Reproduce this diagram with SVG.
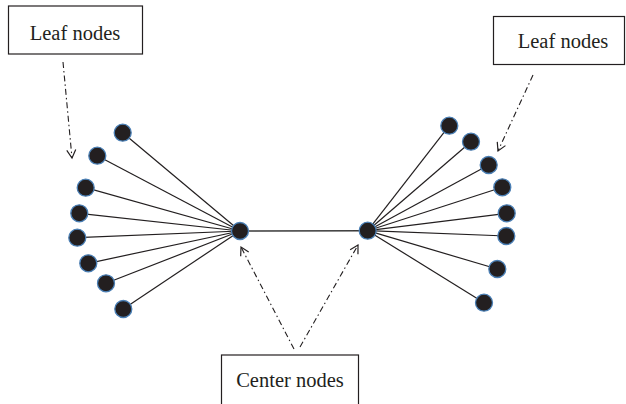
<svg xmlns="http://www.w3.org/2000/svg" width="626" height="404" viewBox="0 0 626 404">
<style>
.bg{fill:#ffffff}
.box{fill:#ffffff;stroke:#231f20;stroke-width:1.2}
.lbl{font-family:"Liberation Serif","Times New Roman",serif;font-size:20.5px;fill:#231f20;text-anchor:middle}
.edge{stroke:#231f20;stroke-width:1.2;fill:none}
.bridge{stroke:#3a3a3a;stroke-width:1.6;fill:none}
.ptr{stroke:#231f20;stroke-width:1.1;fill:none;stroke-dasharray:6 3 1.5 3}
.node{fill:#231f20;stroke:#4a7fb5;stroke-width:1.3}
</style>
<defs>
<marker id="open" markerUnits="userSpaceOnUse" markerWidth="12" markerHeight="12" refX="9" refY="5" orient="auto" viewBox="0 0 12 10">
<path d="M1,0.5 L9,5 L1,9.5" fill="none" stroke="#231f20" stroke-width="1.2"/>
</marker>
</defs>
<rect class="bg" x="0" y="0" width="626" height="404"/>
<g id="connectors">
<line class="edge" x1="122.7" y1="132.7" x2="240" y2="231"/>
<line class="edge" x1="97.3" y1="155.7" x2="240" y2="231"/>
<line class="edge" x1="85.7" y1="187.7" x2="240" y2="231"/>
<line class="edge" x1="79.3" y1="213.3" x2="240" y2="231"/>
<line class="edge" x1="77.3" y1="237.7" x2="240" y2="231"/>
<line class="edge" x1="88.3" y1="263.3" x2="240" y2="231"/>
<line class="edge" x1="106" y1="283.3" x2="240" y2="231"/>
<line class="edge" x1="123.3" y1="309" x2="240" y2="231"/>
<line class="edge" x1="449.3" y1="125.7" x2="367.7" y2="230.7"/>
<line class="edge" x1="471" y1="141.7" x2="367.7" y2="230.7"/>
<line class="edge" x1="488.7" y1="165" x2="367.7" y2="230.7"/>
<line class="edge" x1="502.3" y1="187.3" x2="367.7" y2="230.7"/>
<line class="edge" x1="506.7" y1="213.3" x2="367.7" y2="230.7"/>
<line class="edge" x1="506.3" y1="236" x2="367.7" y2="230.7"/>
<line class="edge" x1="497.3" y1="269" x2="367.7" y2="230.7"/>
<line class="edge" x1="484" y1="302.7" x2="367.7" y2="230.7"/>
<line class="bridge" x1="240" y1="231" x2="367.7" y2="230.7"/>
<line class="ptr" x1="63" y1="62" x2="72" y2="158" marker-end="url(#open)"/>
<line class="ptr" x1="533" y1="75" x2="498" y2="151" marker-end="url(#open)"/>
<line class="ptr" x1="294" y1="349" x2="241" y2="247" marker-end="url(#open)"/>
<line class="ptr" x1="300" y1="347" x2="358" y2="245" marker-end="url(#open)"/>
</g>
<g id="leaf-label-left"><rect class="box" x="8.5" y="6" width="134" height="48"/><text class="lbl" x="75" y="40">Leaf nodes</text></g>
<g id="leaf-label-right"><rect class="box" x="493.5" y="16.5" width="131" height="48"/><text class="lbl" x="563" y="48">Leaf nodes</text></g>
<g id="center-label"><rect class="box" x="221.5" y="355" width="137" height="60"/><text class="lbl" x="290" y="387">Center nodes</text></g>
<g id="center-left"><circle class="node" cx="240" cy="231" r="8.5"/></g>
<g id="center-right"><circle class="node" cx="367.7" cy="230.7" r="8.5"/></g>
<g id="leaf-l1"><circle class="node" cx="122.7" cy="132.7" r="8.5"/></g>
<g id="leaf-l2"><circle class="node" cx="97.3" cy="155.7" r="8.5"/></g>
<g id="leaf-l3"><circle class="node" cx="85.7" cy="187.7" r="8.5"/></g>
<g id="leaf-l4"><circle class="node" cx="79.3" cy="213.3" r="8.5"/></g>
<g id="leaf-l5"><circle class="node" cx="77.3" cy="237.7" r="8.5"/></g>
<g id="leaf-l6"><circle class="node" cx="88.3" cy="263.3" r="8.5"/></g>
<g id="leaf-l7"><circle class="node" cx="106" cy="283.3" r="8.5"/></g>
<g id="leaf-l8"><circle class="node" cx="123.3" cy="309" r="8.5"/></g>
<g id="leaf-r1"><circle class="node" cx="449.3" cy="125.7" r="8.5"/></g>
<g id="leaf-r2"><circle class="node" cx="471" cy="141.7" r="8.5"/></g>
<g id="leaf-r3"><circle class="node" cx="488.7" cy="165" r="8.5"/></g>
<g id="leaf-r4"><circle class="node" cx="502.3" cy="187.3" r="8.5"/></g>
<g id="leaf-r5"><circle class="node" cx="506.7" cy="213.3" r="8.5"/></g>
<g id="leaf-r6"><circle class="node" cx="506.3" cy="236" r="8.5"/></g>
<g id="leaf-r7"><circle class="node" cx="497.3" cy="269" r="8.5"/></g>
<g id="leaf-r8"><circle class="node" cx="484" cy="302.7" r="8.5"/></g>
</svg>
